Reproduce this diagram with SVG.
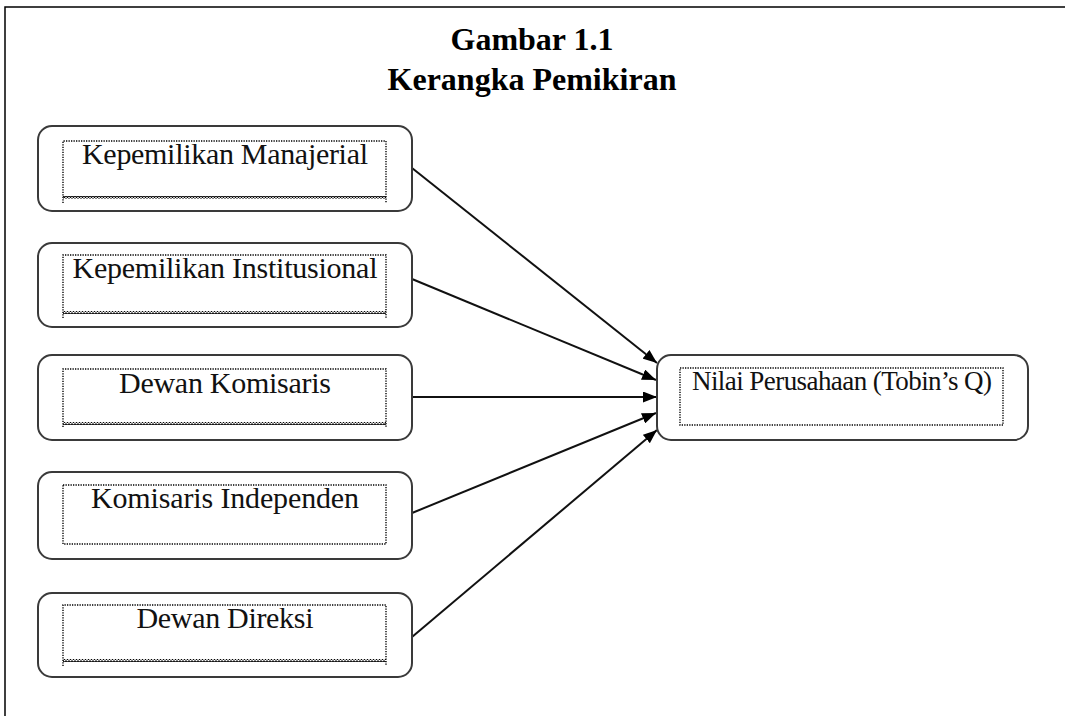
<svg xmlns="http://www.w3.org/2000/svg" width="1065" height="716" viewBox="0 0 1065 716">
<defs>
<style>
.box{fill:#fff;stroke:#3a3a3a;stroke-width:2}
.inner{fill:none;stroke:#000;stroke-width:1.4;stroke-dasharray:1.3 1.2}
.lbl{font-family:"Liberation Serif","Times New Roman",serif;font-size:30px;fill:#111;text-anchor:middle}
.lbl-sm{font-size:27px}
.title{font-family:"Liberation Serif","Times New Roman",serif;font-size:32px;font-weight:bold;fill:#000;text-anchor:middle}
.conn{stroke:#111;stroke-width:2;fill:none}
</style>
<pattern id="wave" x="0" y="0" width="3" height="3" patternUnits="userSpaceOnUse">
<path d="M0,0.5 L1.5,2.5 L3,0.5" fill="none" stroke="#000" stroke-width="1.1"/>
</pattern>
<marker id="arr" viewBox="0 0 14 11" refX="14" refY="5.5" markerWidth="14" markerHeight="11" markerUnits="userSpaceOnUse" orient="auto">
<path d="M0,0 L14,5.5 L0,11 Z" fill="#000"/>
</marker>
</defs>
<rect width="1065" height="716" fill="#fff"/>
<g id="frame">
<path d="M5,716 L5,7 L1065,7" fill="none" stroke="#000" stroke-width="1.5"/>
</g>
<g id="title">
<text class="title" x="532" y="50">Gambar 1.1</text>
<text class="title" x="532" y="90">Kerangka Pemikiran</text>
</g>
<g id="connectors">
<line class="conn" x1="412" y1="168" x2="657" y2="363" marker-end="url(#arr)"/>
<line class="conn" x1="412" y1="279" x2="656" y2="380" marker-end="url(#arr)"/>
<line class="conn" x1="412" y1="397" x2="657" y2="397" marker-end="url(#arr)"/>
<line class="conn" x1="412" y1="513" x2="656" y2="413" marker-end="url(#arr)"/>
<line class="conn" x1="412" y1="637" x2="657" y2="430" marker-end="url(#arr)"/>
</g>
<g id="node-manajerial">
<rect class="box" x="38" y="126" width="374" height="85" rx="14"/>
<path class="inner" d="M63,203 L63,141 L386,141 L386,203"/>
<rect x="63" y="196" width="323" height="3" fill="url(#wave)"/>
<text class="lbl" x="225" y="164" textLength="286" lengthAdjust="spacing">Kepemilikan Manajerial</text>
</g>
<g id="node-institusional">
<rect class="box" x="38" y="243" width="374" height="84" rx="14"/>
<path class="inner" d="M63,318 L63,255 L386,255 L386,318"/>
<rect x="63" y="311" width="323" height="3" fill="url(#wave)"/>
<text class="lbl" x="225" y="278" textLength="305" lengthAdjust="spacing">Kepemilikan Institusional</text>
</g>
<g id="node-dewan-komisaris">
<rect class="box" x="38" y="355" width="374" height="85" rx="14"/>
<path class="inner" d="M63,427 L63,369 L386,369 L386,427"/>
<rect x="63" y="422" width="323" height="3" fill="url(#wave)"/>
<text class="lbl" x="225" y="393" textLength="212" lengthAdjust="spacing">Dewan Komisaris</text>
</g>
<g id="node-komisaris-independen">
<rect class="box" x="38" y="472" width="374" height="87" rx="14"/>
<rect class="inner" x="63" y="485" width="323" height="59"/>
<text class="lbl" x="225" y="508" textLength="268" lengthAdjust="spacing">Komisaris Independen</text>
</g>
<g id="node-dewan-direksi">
<rect class="box" x="38" y="593" width="374" height="84" rx="14"/>
<path class="inner" d="M63,666 L63,605 L386,605 L386,666"/>
<rect x="63" y="659" width="323" height="3" fill="url(#wave)"/>
<text class="lbl" x="225" y="628" textLength="177" lengthAdjust="spacing">Dewan Direksi</text>
</g>
<g id="node-nilai-perusahaan">
<rect class="box" x="657" y="355" width="371" height="85" rx="14"/>
<rect class="inner" x="680" y="368" width="323" height="57"/>
<text class="lbl lbl-sm" x="842" y="390" textLength="300" lengthAdjust="spacing">Nilai Perusahaan (Tobin’s Q)</text>
</g>
</svg>
